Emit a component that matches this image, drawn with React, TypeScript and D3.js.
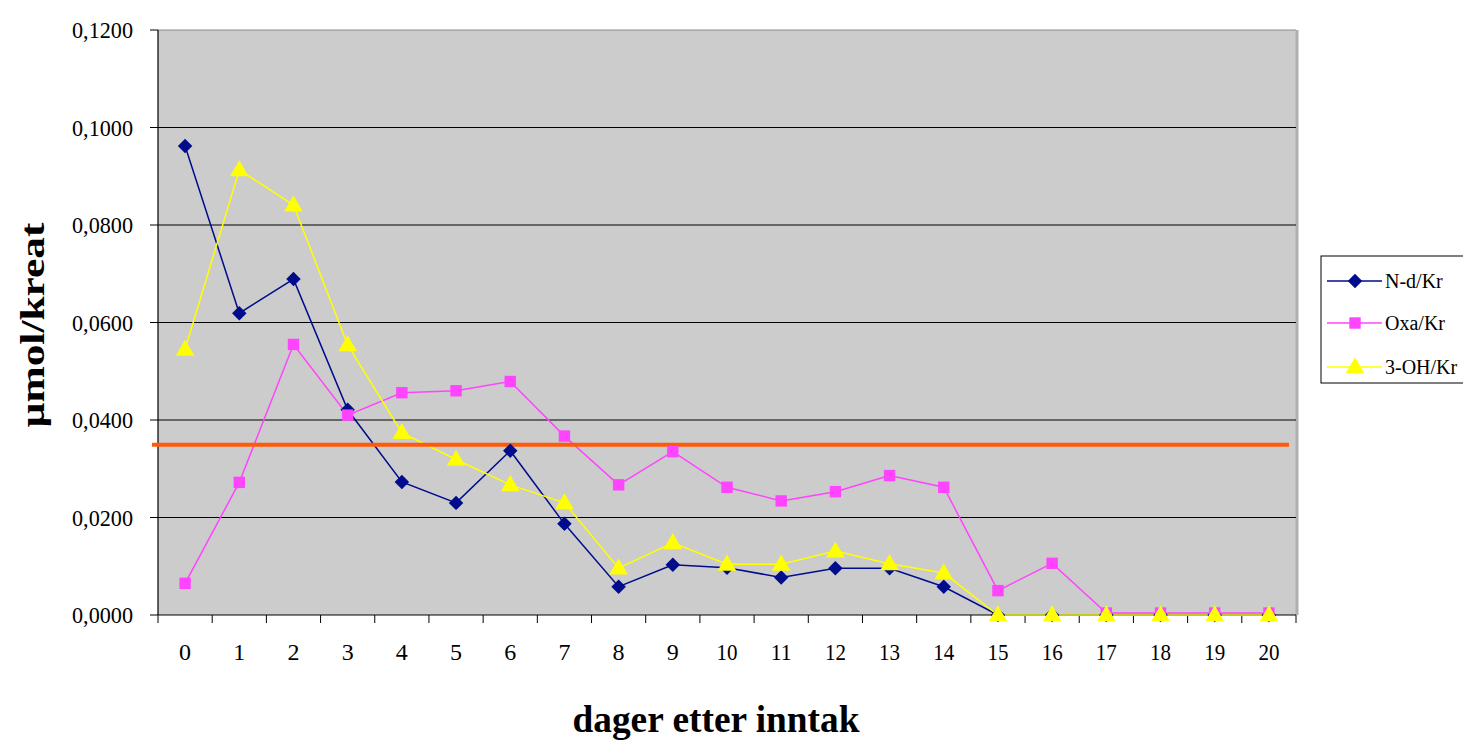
import React from "react";
import * as d3 from "d3";

const days = ["0","1","2","3","4","5","6","7","8","9","10","11","12","13","14","15","16","17","18","19","20"];
const ndKr = [0.0962,0.0619,0.0689,0.0421,0.0273,0.0230,0.0337,0.0187,0.0058,0.0103,0.0097,0.0077,0.0096,0.0096,0.0058,0,0,0,0,0,0];
const oxaKr = [0.0065,0.0272,0.0555,0.0410,0.0456,0.0460,0.0479,0.0367,0.0267,0.0335,0.0262,0.0234,0.0253,0.0286,0.0262,0.0050,0.0106,0.0004,0.0004,0.0004,0.0004];
const ohKr = [0.0545,0.0913,0.0841,0.0554,0.0374,0.0319,0.0267,0.0230,0.0096,0.0148,0.0104,0.0104,0.0131,0.0105,0.0086,0,0,0,0,0,0];
const thresholdValue = 0.0349;
const yTicks = [0, 0.02, 0.04, 0.06, 0.08, 0.1, 0.12];
const seriesNames = ["N-d/Kr", "Oxa/Kr", "3-OH/Kr"];

const W = 1463, H = 743;
const PL = 158, PR = 1296, PT = 30, PB = 615;
const FONT = "'Liberation Serif', 'Times New Roman', Times, serif";

const fmt = (v: number) => v.toFixed(4).replace(".", ",");

const series = [
  { name: seriesNames[0], values: ndKr, color: "#000C8C", marker: "diamond" },
  { name: seriesNames[1], values: oxaKr, color: "#FF44FF", marker: "square" },
  { name: seriesNames[2], values: ohKr, color: "#FFFF00", marker: "triangle" },
];

function Marker({ type, x, y, color }: { type: string; x: number; y: number; color: string }) {
  if (type === "diamond") {
    const p = d3.symbol().type(d3.symbolSquare).size(105)();
    return <path d={p!} transform={`translate(${x},${y}) rotate(45)`} fill={color} />;
  }
  if (type === "square") {
    const p = d3.symbol().type(d3.symbolSquare).size(130)();
    return <path d={p!} transform={`translate(${x},${y})`} fill={color} />;
  }
  const p = d3.symbol().type(d3.symbolTriangle).size(150)();
  return <path d={p!} transform={`translate(${x},${y + 1})`} fill={color} />;
}

export default function App() {
  const x = d3.scaleBand<string>().domain(days).range([PL, PR]).padding(0);
  const y = d3.scaleLinear().domain([0, 0.12]).range([PB, PT]);
  const cx = (d: string) => (x(d) as number) + x.bandwidth() / 2;
  const line = d3
    .line<number>()
    .x((_, i) => cx(days[i]))
    .y((v) => y(v));

  const legendX = 1321, legendY = 256;
  const legendRows = [281, 323, 367];

  return (
    <svg
      width={W}
      height={H}
      style={{ position: "absolute", left: 0, top: 0, background: "#fff", fontFamily: FONT }}
    >
      <rect x={PL} y={PT} width={PR - PL} height={PB - PT} fill="#CCCCCC" />
      <line x1={PL} x2={PR} y1={PT} y2={PT} stroke="#8a8a8a" strokeWidth={1} />
      <line x1={PR + 1} x2={PR + 1} y1={PT} y2={PB} stroke="#b0b0b0" strokeWidth={3} />
      {yTicks.map((t) => (
        <g key={t}>
          {t > 0 && t < 0.12 && (
            <line x1={PL} x2={PR} y1={y(t)} y2={y(t)} stroke="#000" strokeWidth={1} />
          )}
          <line x1={PL - 8} x2={PL} y1={y(t)} y2={y(t)} stroke="#000" strokeWidth={1} />
          <text
            x={133}
            y={y(t) + 8}
            textAnchor="end"
            fontSize={24}
            textLength={61}
            lengthAdjust="spacingAndGlyphs"
            fill="#000"
            style={{ fontFamily: FONT }}
          >
            {fmt(t)}
          </text>
        </g>
      ))}
      <line x1={PL} x2={PL} y1={PT} y2={PB} stroke="#000" strokeWidth={1.2} />
      <line x1={PL} x2={PR} y1={PB} y2={PB} stroke="#000" strokeWidth={1.2} />
      {days.map((d) => (
        <line
          key={"t" + d}
          x1={x(d) as number}
          x2={x(d) as number}
          y1={PB}
          y2={PB + 8}
          stroke="#000"
          strokeWidth={1}
        />
      ))}
      <line x1={PR} x2={PR} y1={PB} y2={PB + 8} stroke="#000" strokeWidth={1} />
      {days.map((d) => (
        <text
          key={"l" + d}
          x={cx(d)}
          y={660}
          textAnchor="middle"
          fontSize={24}
          textLength={d.length > 1 ? 21 : undefined}
          lengthAdjust="spacingAndGlyphs"
          fill="#000"
          style={{ fontFamily: FONT }}
        >
          {d}
        </text>
      ))}

      {series.map((s) => (
        <path key={s.name} d={line(s.values)!} fill="none" stroke={s.color} strokeWidth={1.5} />
      ))}
      <line
        x1={PL - 6}
        x2={PR - 7}
        y1={y(thresholdValue)}
        y2={y(thresholdValue)}
        stroke="#FF5A0A"
        strokeWidth={4}
      />
      {series.map((s) =>
        s.values.map((v, i) => (
          <Marker key={s.name + i} type={s.marker} x={cx(days[i])} y={y(v)} color={s.color} />
        ))
      )}

      <text
        transform={`translate(44,325) rotate(-90)`}
        textAnchor="middle"
        fontSize={34}
        fontWeight="bold"
        textLength={205}
        lengthAdjust="spacingAndGlyphs"
        fill="#000"
        style={{ fontFamily: FONT }}
      >
        µmol/kreat
      </text>
      <text
        x={716}
        y={732}
        textAnchor="middle"
        fontSize={37}
        fontWeight="bold"
        textLength={287}
        lengthAdjust="spacingAndGlyphs"
        fill="#000"
        style={{ fontFamily: FONT }}
      >
        dager etter inntak
      </text>

      <rect x={legendX} y={legendY} width={150} height={127} fill="#fff" stroke="#000" strokeWidth={1} />
      {series.map((s, i) => (
        <g key={"lg" + s.name}>
          <line x1={1327} x2={1382} y1={legendRows[i]} y2={legendRows[i]} stroke={s.color} strokeWidth={1.5} />
          <Marker type={s.marker} x={1355} y={legendRows[i]} color={s.color} />
          <text
            x={1385}
            y={legendRows[i] + 7}
            fontSize={20}
            fill="#000"
            style={{ fontFamily: FONT }}
          >
            {s.name}
          </text>
        </g>
      ))}
    </svg>
  );
}
